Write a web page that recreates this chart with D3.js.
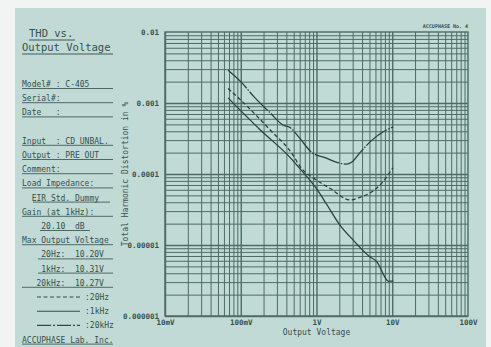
<!DOCTYPE html>
<html>
<head>
<meta charset="utf-8">
<script src="https://cdn.jsdelivr.net/npm/d3@7"></script>
<style>
  body { margin: 0; background: #f2f4f3; }
  svg { display: block; }
  text { font-family: "DejaVu Sans Mono", "Liberation Mono", monospace; fill: #34504c; white-space: pre; }
  .grid path, .axis path, .axis line { display: none; }
</style>
</head>
<body>
<div id="chart"></div>
<script>
// sweep points: [output voltage (V), THD (%)]
const thd20Hz = [
  [0.068, 0.0016], [0.1, 0.0011], [0.243, 0.00042], [0.49, 0.000185], [0.6, 0.00013],
  [1.0, 0.000082], [1.5, 0.000063], [2.8, 0.000043], [3.75, 0.000047], [4.6, 0.000051],
  [6.9, 0.00007], [10.2, 0.000122]
];
const thd1kHz = [
  [0.068, 0.00118], [0.18, 0.00042], [0.45, 0.00017], [0.6, 0.00012], [1.0, 0.000062],
  [1.38, 0.0000366], [2.04, 0.0000191], [3.03, 0.0000118], [5.08, 0.0000068], [6.29, 0.0000058],
  [8.02, 0.0000035], [8.79, 0.0000031], [10.31, 0.0000031]
];
const thd20kHz = [
  [0.068, 0.0029], [0.1, 0.002], [0.15, 0.00122], [0.24, 0.00074], [0.36, 0.00049],
  [0.45, 0.00045], [0.6, 0.00032], [0.87, 0.0002], [1.3, 0.00017], [2.0, 0.000143],
  [2.5, 0.000138], [3.0, 0.00015], [3.75, 0.0002], [5.4, 0.0003], [7.5, 0.00039], [10.27, 0.00046]
];

const xTickValues = [0.01, 0.1, 1, 10, 100];
const xTickLabels = ["10mV", "100mV", "1V", "10V", "100V"];
const yTickValues = [0.01, 0.001, 0.0001, 0.00001, 0.000001];
const yTickLabels = ["0.01", "0.001", "0.0001", "0.00001", "0.000001"];

const titleLines = ["THD vs.", "Output Voltage"];
const infoLines = [
  "Model# : C-405",
  "Serial#:",
  "Date   :",
  "",
  "Input  : CD UNBAL.",
  "Output : PRE OUT",
  "Comment:",
  "Load Impedance:",
  "  EIR Std. Dummy",
  "Gain (at 1kHz):",
  "    20.10  dB",
  "Max Output Voltage",
  "    20Hz:  10.20V",
  "    1kHz:  10.31V",
  "   20kHz:  10.27V"
];
const legendLabels = [":20Hz", ":1kHz", ":20kHz"];
const footerText = "ACCUPHASE Lab. Inc.";
const sheetNote = "ACCUPHASE No. 4";
const xTitle = "Output Voltage";
const yTitle = "Total Harmonic Distortion in %";

const dimensions = {
  width: 491,
  height: 347,
  marginTop: 32,
  marginLeft: 165,
  boundedWidth: 303,
  boundedHeight: 284,
};

const ink = "#304b47";
const gridInk = "#4d6b66";
const legendDashes = ["4,2.5", null, "14,2,2,2"];
// the 20kHz pen looks almost solid on the plot itself
const curveDashes = ["4,2.5", null, "26,1.5,1.5,1.5"];

const wrapper = d3.select("#chart")
  .append("svg")
    .attr("width", dimensions.width)
    .attr("height", dimensions.height);

// the card itself
wrapper.append("rect")
  .attr("x", 15)
  .attr("y", 8)
  .attr("width", 471)
  .attr("height", 339)
  .attr("fill", "#c2dad6");

// ---- left info panel ----
const panel = wrapper.append("g");

panel.append("text")
  .attr("x", 29).attr("y", 37)
  .style("font-size", "10.5px")
  .text(titleLines[0]);
panel.append("line")
  .attr("x1", 29).attr("x2", 75).attr("y1", 40).attr("y2", 40)
  .attr("stroke", ink).attr("stroke-width", 0.9);
panel.append("text")
  .attr("x", 22).attr("y", 51)
  .style("font-size", "10.5px")
  .text(titleLines[1]);
panel.append("line")
  .attr("x1", 22).attr("x2", 113).attr("y1", 54).attr("y2", 54)
  .attr("stroke", ink).attr("stroke-width", 0.9);

const rowY = i => 84 + 14.2 * i;

// underline spans, same order as infoLines
const underline = (d, i) => {
  if (i === 8) return [33, 110];
  if (i === 10) return [40, 90];
  if (i === 12 || i === 13) return [38, 113];
  return [22, 113];
};

infoLines.forEach((d, i) => {
  if (d === "") return;
  panel.append("text")
    .attr("x", 22)
    .attr("y", rowY(i) + 3)
    .style("font-size", "8px")
    .text(d);
  const u = underline(d, i);
  panel.append("line")
    .attr("x1", u[0]).attr("x2", u[1])
    .attr("y1", rowY(i) + 4.5).attr("y2", rowY(i) + 4.5)
    .attr("stroke", ink).attr("stroke-width", 0.8);
});

// legend
legendLabels.forEach((d, i) => {
  const yy = rowY(15 + i);
  panel.append("line")
    .attr("x1", 37).attr("x2", 80)
    .attr("y1", yy).attr("y2", yy)
    .attr("stroke", ink).attr("stroke-width", 1.1)
    .attr("stroke-dasharray", legendDashes[i]);
  panel.append("text")
    .attr("x", 85).attr("y", yy + 3)
    .style("font-size", "8px")
    .text(d);
});

panel.append("text")
  .attr("x", 22).attr("y", rowY(18) + 3)
  .style("font-size", "8px")
  .text(footerText);
panel.append("line")
  .attr("x1", 22).attr("x2", 113)
  .attr("y1", rowY(18) + 4.5).attr("y2", rowY(18) + 4.5)
  .attr("stroke", ink).attr("stroke-width", 0.8);

// ---- plot ----
const bounds = wrapper.append("g")
  .attr("transform", `translate(${dimensions.marginLeft}, ${dimensions.marginTop})`);

const xScale = d3.scaleLog()
  .domain([0.01, 100])
  .range([0, dimensions.boundedWidth]);

const yScale = d3.scaleLog()
  .domain([0.000001, 0.01])
  .range([dimensions.boundedHeight, 0]);

// 1..9 in every decade, like log paper
const minorX = d3.range(-2, 2).flatMap(n => d3.range(1, 10).map(k => k * Math.pow(10, n)));
const minorY = d3.range(-6, -2).flatMap(n => d3.range(1, 10).map(k => k * Math.pow(10, n)));

bounds.append("g")
  .attr("class", "grid")
  .attr("transform", `translate(0, ${dimensions.boundedHeight})`)
  .call(d3.axisBottom(xScale)
    .tickValues(minorX)
    .tickSize(-dimensions.boundedHeight)
    .tickFormat(() => ""))
  .selectAll("line")
    .style("display", null)
    .attr("stroke", gridInk)
    .attr("stroke-width", d => xTickValues.includes(d) ? 1.4 : 1);

bounds.append("g")
  .attr("class", "grid")
  .call(d3.axisLeft(yScale)
    .tickValues(minorY)
    .tickSize(-dimensions.boundedWidth)
    .tickFormat(() => ""))
  .selectAll("line")
    .style("display", null)
    .attr("stroke", gridInk)
    .attr("stroke-width", d => yTickValues.some(v => Math.abs(v - d) / v < 1e-6) ? 1.4 : 1);

bounds.append("rect")
  .attr("width", dimensions.boundedWidth)
  .attr("height", dimensions.boundedHeight)
  .attr("fill", "none")
  .attr("stroke", gridInk)
  .attr("stroke-width", 1.4);

// axis labels
const xAxis = bounds.append("g")
  .attr("class", "axis")
  .attr("transform", `translate(0, ${dimensions.boundedHeight})`)
  .call(d3.axisBottom(xScale)
    .tickValues(xTickValues)
    .tickSize(0)
    .tickPadding(4)
    .tickFormat((d, i) => xTickLabels[i]));

const yAxis = bounds.append("g")
  .attr("class", "axis")
  .call(d3.axisLeft(yScale)
    .tickValues(yTickValues)
    .tickSize(0)
    .tickPadding(6)
    .tickFormat((d, i) => yTickLabels[i]));

wrapper.selectAll(".axis text")
  .attr("fill", ink)
  .style("font-family", "'DejaVu Sans Mono', monospace")
  .style("font-size", "7.5px")
  .style("font-weight", "bold");

bounds.append("text")
  .attr("x", xScale(1))
  .attr("y", dimensions.boundedHeight + 19)
  .attr("text-anchor", "middle")
  .style("font-size", "8px")
  .text(xTitle);

bounds.append("text")
  .attr("transform", `translate(-37, ${dimensions.boundedHeight / 2}) rotate(-90)`)
  .attr("text-anchor", "middle")
  .style("font-size", "8px")
  .text(yTitle);

bounds.append("text")
  .attr("x", dimensions.boundedWidth)
  .attr("y", -4)
  .attr("text-anchor", "end")
  .style("font-size", "5px")
  .style("font-weight", "bold")
  .text(sheetNote);

// curves
const lineGenerator = d3.line()
  .x(d => xScale(d[0]))
  .y(d => yScale(d[1]))
  .curve(d3.curveMonotoneX);

const series = [thd20Hz, thd1kHz, thd20kHz];

bounds.selectAll(".curve")
  .data(series)
  .enter()
  .append("path")
    .attr("class", "curve")
    .attr("d", d => lineGenerator(d))
    .attr("fill", "none")
    .attr("stroke", "#28423e")
    .attr("stroke-width", 1.3)
    .attr("stroke-dasharray", (d, i) => curveDashes[i]);
</script>
</body>
</html>
